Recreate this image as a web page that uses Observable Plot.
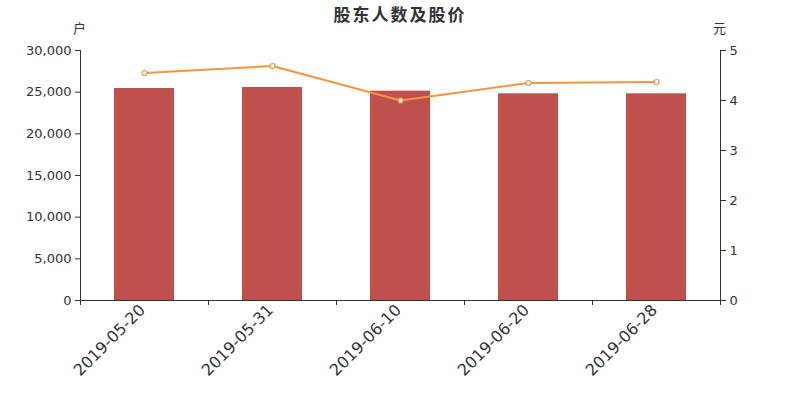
<!DOCTYPE html>
<html><head><meta charset="utf-8">
<script src="https://cdn.jsdelivr.net/npm/d3@7"></script>
<script src="https://cdn.jsdelivr.net/npm/@observablehq/plot@0.6"></script>
<style>
body{margin:0;background:#fff}
#chart{position:relative;width:800px;height:400px}
#chart svg{position:absolute;left:0;top:0}
.lbl{position:absolute;color:#333;font-family:"Noto Sans CJK SC","DejaVu Sans",sans-serif;white-space:nowrap;line-height:1}
</style></head><body>
<div id="chart">
  <div class="lbl" id="title" style="left:0;width:800px;text-align:center;top:5px;font-size:17px;font-weight:bold;letter-spacing:2px">股东人数及股价</div>
  <div class="lbl" style="left:73px;top:21px;font-size:13px">户</div>
  <div class="lbl" style="left:713px;top:21px;font-size:13px">元</div>
</div>
<script>
const dates = ["2019-05-20", "2019-05-31", "2019-06-10", "2019-06-20", "2019-06-28"];
const holders = [25440, 25560, 25120, 24800, 24800];
const prices = [4.55, 4.69, 4.00, 4.35, 4.37];
const leftTicks = [0, 5000, 10000, 15000, 20000, 25000, 30000];
const rightTicks = [0, 1, 2, 3, 4, 5];

const data = dates.map((d, i) => ({date: d, holders: holders[i], price: prices[i]}));
const boundaries = d3.range(dates.length + 1);

const common = {
  width: 800, height: 400,
  marginLeft: 80, marginRight: 80, marginTop: 50, marginBottom: 100,
  style: {background: "transparent", color: "#333", fontFamily: "DejaVu Sans, sans-serif", fontSize: "13px", overflow: "visible"}
};

const chart = document.getElementById("chart");

// bars, left axis, category labels
const p1 = Plot.plot({
  ...common,
  x: {type: "band", domain: dates, paddingInner: 0.53125, paddingOuter: 0.265625, round: false, axis: null},
  y: {domain: [0, 30000], axis: null},
  marks: [
    Plot.barY(data, {x: "date", y: "holders", fill: "#c0504d"}),
    Plot.axisY({ticks: leftTicks, tickFormat: d3.format(","), tickSize: 5, tickPadding: 4, label: null, fontSize: 13, stroke: "#333"}),
    Plot.axisX({tickSize: 0, tickPadding: 7, tickRotate: -45, label: null, fontSize: 16, dx: -2})
  ]
});
chart.appendChild(p1);

// axis lines and boundary ticks
const p3 = Plot.plot({
  ...common,
  x: {type: "linear", domain: [0, dates.length], axis: null},
  y: {domain: [0, 30000], axis: null},
  marks: [
    Plot.ruleY([0], {stroke: "#333"}),
    Plot.ruleX([0, dates.length], {stroke: "#333"}),
    Plot.axisX({ticks: boundaries, tickFormat: () => "", tickSize: 5, label: null, stroke: "#333"})
  ]
});
chart.appendChild(p3);

// price line, right axis
const p2 = Plot.plot({
  ...common,
  x: {type: "point", domain: dates, padding: 0.5, round: false, axis: null},
  y: {domain: [0, 5], axis: null},
  marks: [
    Plot.axisY({anchor: "right", ticks: rightTicks, tickFormat: d3.format("d"), tickSize: 5, tickPadding: 4, label: null, fontSize: 13}),
    Plot.line(data, {x: "date", y: "price", stroke: "#f7953f", strokeWidth: 2}),
    Plot.dot(data, {x: "date", y: "price", r: 2.5, fill: "#fff", stroke: "#f7953f", strokeWidth: 1.2})
  ]
});
chart.appendChild(p2);
</script>
</body></html>
